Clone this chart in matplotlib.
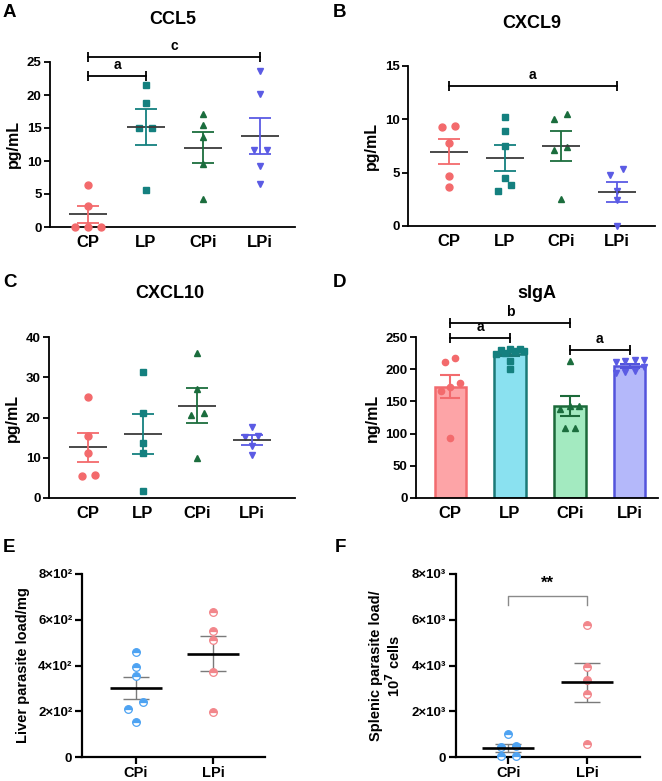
import numpy as np
import matplotlib.pyplot as plt
from matplotlib.ticker import FuncFormatter

plt.rcParams['font.family'] = ['Liberation Sans', 'DejaVu Sans']
plt.rcParams['font.weight'] = 'bold'
plt.rcParams['axes.labelweight'] = 'bold'

W, H = 662, 781

# ---- data ----
groups = ["CP", "LP", "CPi", "LPi"]
ccl5 = [[0, 0, 0, 3.2, 6.4],
        [21.5, 18.8, 15.0, 15.0, 5.6],
        [17.1, 15.5, 13.7, 9.5, 4.3],
        [23.6, 20.1, 11.6, 11.6, 9.3, 6.5]]
cxcl9 = [[9.4, 9.3, 7.8, 4.7, 3.7],
         [10.2, 8.9, 7.5, 4.5, 3.8, 3.3],
         [10.5, 10.0, 7.4, 7.1, 2.5],
         [5.3, 4.8, 3.3, 2.4, 0.0]]
cxcl10 = [[25.0, 15.5, 11.3, 5.8, 5.4],
          [31.3, 21.0, 13.7, 11.3, 1.7],
          [36.0, 27.2, 21.0, 20.6, 9.9],
          [17.7, 15.5, 15.2, 12.9, 10.8]]
siga = [[217, 211, 179, 172, 166, 93],
        [232, 231, 230, 229, 228, 225, 224, 213, 201],
        [212, 143, 143, 138, 109, 109],
        [215, 214, 213, 211, 203, 197, 195, 194]]

load_groups = ["CPi", "LPi"]
liver_load = [[460, 395, 355, 240, 212, 155],
              [635, 550, 510, 370, 195]]
spleen_load = [[990, 500, 420, 50, 40],
               [5750, 3950, 3350, 2750, 550]]

# significance letters: (group i, group j, bar height, letter)
sig_ccl5 = [(0, 1, 22.9, "a"), (0, 3, 25.8, "c")]
sig_cxcl9 = [(0, 3, 13.1, "a")]
sig_siga = [(0, 1, 248, "a"), (0, 2, 272, "b"), (2, 3, 230, "a")]

# ---- styles ----
dot_colors = ['#f36a6c', '#14807f', '#1b6d3d', '#5b5be4']
bar_faces = ['#fda4a7', '#8ae1f0', '#a3eac0', '#b4b8fa']
bar_edges = ['#f26b6e', '#1b7a78', '#1c6a3a', '#5353dc']
markers = ['o', 's', '^', 'v']
load_colors = ['#4ea3f2', '#f2868b']


def fig_rect(x0, y0, x1, y1):
    # pixel box (left, top, right, bottom) -> figure fraction rect
    return [x0 / W, 1 - y1 / H, (x1 - x0) / W, (y1 - y0) / H]


def swarm(vals, px_per_unit, step, tol=6.5, max_n=4):
    vals = np.asarray(vals, float)
    order = np.argsort(vals)
    offs = np.zeros(len(vals))
    clusters, cur = [], [order[0]]
    for i in order[1:]:
        if (vals[i] - vals[cur[-1]]) * px_per_unit < tol and len(cur) < max_n:
            cur.append(i)
        else:
            clusters.append(cur)
            cur = [i]
    clusters.append(cur)
    for c in clusters:
        n = len(c)
        for k, i in enumerate(c):
            offs[i] = (k - (n - 1) / 2) * step
    return offs


def scales(ax):
    pos = ax.get_position()
    x0, x1 = ax.get_xlim()
    y0, y1 = ax.get_ylim()
    return pos.width * W / (x1 - x0), pos.height * H / (y1 - y0)


def style(ax, lw=1.3):
    for s in ['top', 'right']:
        ax.spines[s].set_visible(False)
    for s in ['left', 'bottom']:
        ax.spines[s].set_linewidth(lw)
    ax.tick_params(axis='y', length=4, width=lw, labelsize=9.5, pad=2)


def sig_bar(ax, i, j, y, txt):
    ax.plot([i, j], [y, y], color='k', lw=1.3, clip_on=False)
    ax.plot([i, j], [y, y], ls='none', marker='|', ms=7, mew=1.3,
            color='k', clip_on=False)
    ax.annotate(txt, (0.5 * (i + j), y), xytext=(0, 3), textcoords='offset points',
                ha='center', va='bottom', fontsize=10, annotation_clip=False)


def dot_panel(ax, data, xlim, ylim, yticks, sigs=()):
    ax.set_xlim(*xlim)
    ax.set_ylim(*ylim)
    sx, sy = scales(ax)
    for i, vals in enumerate(data):
        v = np.array(vals, float)
        x = i + swarm(v, sy, 13 / sx)
        ax.plot(x, v, ls='none', marker=markers[i], color=dot_colors[i], ms=5,
                clip_on=False, zorder=3)
        m = v.mean()
        s = v.std(ddof=1) / np.sqrt(len(v))
        ax.hlines(m, i - 19 / sx, i + 19 / sx, color='#3a3a3a', lw=1.3, zorder=4)
        ax.errorbar(i, m, yerr=s, color=dot_colors[i], capsize=8, lw=1.3,
                    capthick=1.3, zorder=4)
    for i, j, y, t in sigs:
        sig_bar(ax, i, j, y, t)
    ax.set_yticks(yticks)
    ax.set_xticks(range(len(groups)))
    ax.set_xticklabels(groups, fontsize=12)
    ax.tick_params(axis='x', length=0, pad=6)
    ax.set_ylabel('pg/mL', fontsize=11.5, labelpad=4)
    style(ax)


fig = plt.figure(figsize=(W / 100, H / 100), dpi=100)

# A
axA = fig.add_axes(fig_rect(50, 62, 295, 227))
dot_panel(axA, ccl5, (-0.67, 3.61), (0, 25), range(0, 26, 5), sig_ccl5)

# B
axB = fig.add_axes(fig_rect(408, 66, 655, 226))
dot_panel(axB, cxcl9, (-0.73, 3.68), (0, 15), range(0, 16, 5), sig_cxcl9)

# C
axC = fig.add_axes(fig_rect(49, 337, 295, 498))
dot_panel(axC, cxcl10, (-0.72, 3.79), (0, 40), range(0, 41, 10))

# D
axD = fig.add_axes(fig_rect(416, 337, 658, 498))
axD.set_xlim(-0.57, 3.47)
axD.set_ylim(0, 250)
sx, sy = scales(axD)
for i, vals in enumerate(siga):
    v = np.array(vals, float)
    m = v.mean()
    s = v.std(ddof=1) / np.sqrt(len(v))
    axD.bar(i, m, width=0.52, color=bar_faces[i], edgecolor=bar_edges[i],
            linewidth=1.8, zorder=2)
    axD.errorbar(i, m, yerr=s, color=bar_edges[i], capsize=7.5, lw=1.5,
                 capthick=1.5, zorder=3)
    x = i + swarm(v, sy, 9.5 / sx)
    axD.plot(x, v, ls='none', marker=markers[i], color=dot_colors[i], ms=4.5,
             clip_on=False, zorder=4)
for i, j, y, t in sig_siga:
    sig_bar(axD, i, j, y, t)
axD.set_yticks(range(0, 251, 50))
axD.set_xticks(range(len(groups)))
axD.set_xticklabels(groups, fontsize=12)
axD.tick_params(axis='x', length=0, pad=6)
axD.set_ylabel('ng/mL', fontsize=11.5, labelpad=4)
style(axD)


def load_panel(ax, data, xl, ymax, exp, ylabel):
    ax.set_xlim(*xl)
    ax.set_ylim(0, ymax)
    sx, sy = scales(ax)
    for i, vals in enumerate(data):
        v = np.array(vals, float)
        x = i + swarm(v, sy, 15 / sx)
        ax.plot(x, v, ls='none', marker='o', ms=5.5, fillstyle='top',
                color=load_colors[i], markerfacecoloralt='white',
                markeredgecolor=load_colors[i], mew=0.9, clip_on=False, zorder=3)
        m = v.mean()
        s = v.std(ddof=1) / np.sqrt(len(v))
        ax.errorbar(i, m, yerr=s, color='#7a7a7a', capsize=9.5, lw=1,
                    capthick=1, zorder=2)
        ax.hlines(m, i - 26 / sx, i + 26 / sx, color='k', lw=1.9, zorder=4)
    sup = "²" if exp == 2 else "³"
    ax.set_yticks(np.linspace(0, ymax, 5))
    ax.yaxis.set_major_formatter(FuncFormatter(
        lambda val, p: '0' if val == 0 else f'{int(round(val / 10 ** exp))}×10{sup}'))
    ax.set_xticks(range(len(load_groups)))
    ax.set_xticklabels(load_groups, fontsize=10.5)
    style(ax, lw=1.6)
    ax.tick_params(axis='x', length=5, width=1.6, pad=1.5)
    ax.tick_params(axis='y', length=5, width=1.6, labelsize=9.5)
    ax.set_ylabel(ylabel, fontsize=10.5, labelpad=6, linespacing=1.1)


# E
axE = fig.add_axes(fig_rect(82, 574, 265, 757))
load_panel(axE, liver_load, (-0.70, 1.675), 800, 2, 'Liver parasite load/mg')

# F
axF = fig.add_axes(fig_rect(456, 574, 640, 757))
load_panel(axF, spleen_load, (-0.66, 1.67), 8000, 3,
           'Splenic parasite load/\n10$^{\\mathbf{7}}$ cells')
axF.plot([0, 0, 1, 1], [6650, 7040, 7040, 6650], color='#8a8a8a', lw=1,
         clip_on=False)
axF.text(0.5, 7250, '**', ha='center', va='bottom', fontsize=12)

# titles and panel letters
titles = [("CCL5", 173, 19), ("CXCL9", 532, 23), ("CXCL10", 170, 294), ("sIgA", 537, 293)]
for t, x, y in titles:
    fig.text(x / W, 1 - y / H, t, ha='center', va='center', fontsize=13)
letters = [("A", 3, 4), ("B", 333, 4), ("C", 3, 274), ("D", 333, 274), ("E", 3, 539), ("F", 335, 539)]
for t, x, y in letters:
    fig.text(x / W, 1 - y / H, t, ha='left', va='top', fontsize=13.5)

fig.savefig('out.png', dpi=100)
